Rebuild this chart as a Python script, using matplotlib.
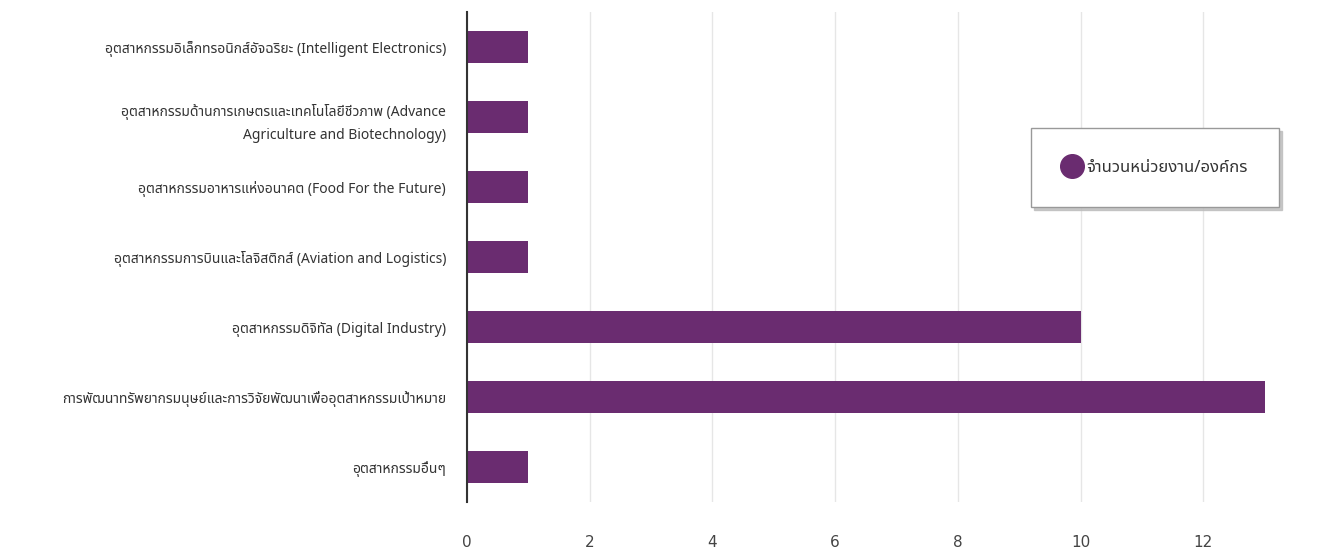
import matplotlib
matplotlib.use("Agg")
import matplotlib.pyplot as plt
from matplotlib.lines import Line2D

categories = [
    "อุตสาหกรรมอิเล็กทรอนิกส์อัจฉริยะ (Intelligent Electronics)",
    "อุตสาหกรรมด้านการเกษตรและเทคโนโลยีชีวภาพ (Advance\nAgriculture and Biotechnology)",
    "อุตสาหกรรมอาหารแห่งอนาคต (Food For the Future)",
    "อุตสาหกรรมการบินและโลจิสติกส์ (Aviation and Logistics)",
    "อุตสาหกรรมดิจิทัล (Digital Industry)",
    "การพัฒนาทรัพยากรมนุษย์และการวิจัยพัฒนาเพื่ออุตสาหกรรมเป้าหมาย",
    "อุตสาหกรรมอื่นๆ",
]
counts = [1, 1, 1, 1, 10, 13, 1]
series_name = "จำนวนหน่วยงาน/องค์กร"
xticks = [0, 2, 4, 6, 8, 10, 12, 14]

thai = ["Noto Sans Thai", "DejaVu Sans"]
purple = "#6a2c70"

fig = plt.figure(figsize=(13.17, 5.5), dpi=100)
ax = fig.add_axes([467/1317, 1-502/550, 859/1317, 490/550])

ypos = list(range(len(categories)))
ax.barh(ypos, counts, height=0.47, color=purple, zorder=3)
ax.set_ylim(len(categories)-0.5, -0.5)
ax.set_xlim(0, 14)

ax.set_yticks(ypos)
ax.set_yticklabels(categories, family=thai, fontsize=10, color="#333333",
                   linespacing=1.75)
ax.set_xticks(xticks)
ax.set_xticklabels([str(t) for t in xticks], family=["Liberation Sans Narrow", "DejaVu Sans"],
                   fontsize=11, color="#444444")
ax.tick_params(axis="y", length=0, pad=15)
ax.tick_params(axis="x", length=0, pad=24)

ax.grid(axis="x", color="#e6e6e6", linewidth=1, zorder=0)
ax.grid(axis="y", visible=False)
for s in ["top", "right", "bottom"]:
    ax.spines[s].set_visible(False)
ax.spines["left"].set_color("#333333")
ax.spines["left"].set_linewidth(1.5)
ax.spines["left"].set_zorder(4)

handle = Line2D([], [], marker="o", linestyle="none", markersize=17,
                markerfacecolor=purple, markeredgecolor=purple)
leg = fig.legend([handle], [series_name], loc="upper left",
                 bbox_to_anchor=(1031/1317, 1-128/550),
                 prop={"family": thai, "size": 12}, frameon=True, fancybox=False,
                 shadow={"color": "#bbbbbb", "alpha": 0.8}, borderpad=1.9,
                 handletextpad=0.3, handlelength=1.1, borderaxespad=0)
leg.get_frame().set_edgecolor("#999999")
leg.get_frame().set_linewidth(1)
for t in leg.get_texts():
    t.set_color("#333333")

fig.savefig("out.png", dpi=100)
